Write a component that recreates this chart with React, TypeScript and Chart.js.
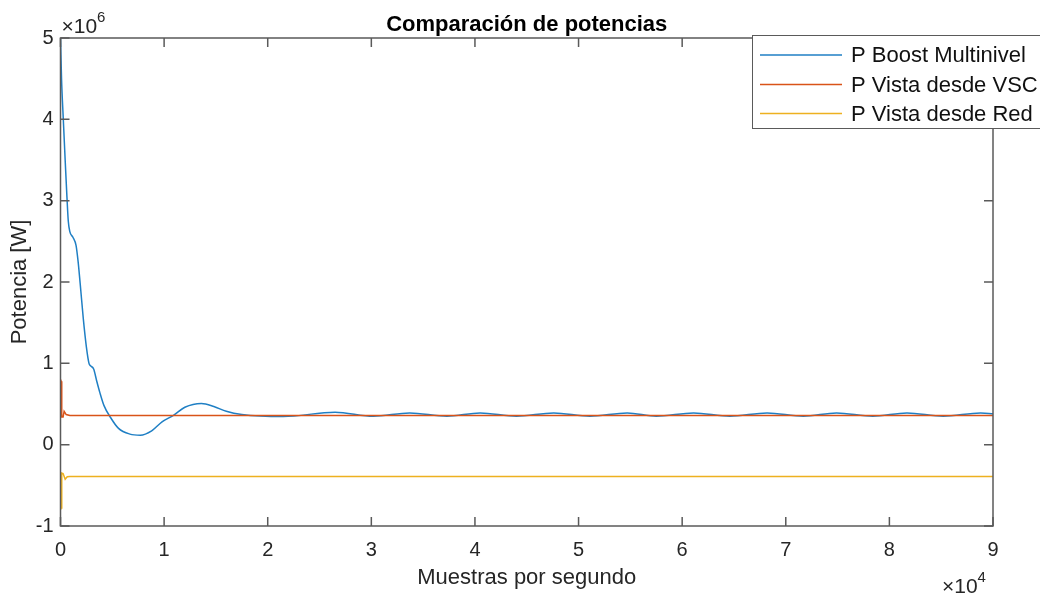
import React, { useEffect, useRef } from "react";
import { Chart, registerables } from "chart.js";

Chart.register(...registerables);

const FONT = "'Liberation Sans', Arial, Helvetica, sans-serif";
const TEXT = "#262626";
const AXIS = "#5a5a5a";

const titleText = "Comparación de potencias";
const xTitle = "Muestras por segundo";
const yTitle = "Potencia [W]";
const seriesLabels = ["P Boost Multinivel", "P Vista desde VSC", "P Vista desde Red"];
const seriesColors = ["#1f7fc4", "#D95319", "#EDB120"];

const xMin = 0;
const xMax = 90000;
const xStep = 10000;
const yMin = -1e6;
const yMax = 5e6;
const yStep = 1e6;

const boostX = [0, 100, 270, 450, 620, 750, 900, 1200, 1500, 1700, 1900, 2200, 2500, 2750, 2900, 3200, 3500, 3800, 4200, 4800, 5600, 6700, 7700, 8800, 9800, 10900, 12000, 13600, 14800, 16000, 17500, 21500, 26500, 30200, 33700, 37300, 40500, 44000, 47600, 51100, 54700, 57500, 61100, 64600, 68200, 71700, 74900, 78400, 81700, 85200, 88800, 90000];
const boostY = [5.0e6, 4.5e6, 4.0e6, 3.5e6, 3.05e6, 2.75e6, 2.62e6, 2.55e6, 2.45e6, 2.25e6, 1.98e6, 1.55e6, 1.2e6, 1.0e6, 0.97e6, 0.93e6, 0.78e6, 0.64e6, 0.48e6, 0.34e6, 0.2e6, 0.13e6, 0.117e6, 0.17e6, 0.28e6, 0.36e6, 0.46e6, 0.507e6, 0.47e6, 0.41e6, 0.37e6, 0.345e6, 0.40e6, 0.35e6, 0.39e6, 0.35e6, 0.39e6, 0.35e6, 0.39e6, 0.35e6, 0.39e6, 0.35e6, 0.39e6, 0.35e6, 0.39e6, 0.35e6, 0.39e6, 0.35e6, 0.39e6, 0.35e6, 0.39e6, 0.38e6];

const vscX = [0, 60, 120, 250, 350, 550, 900, 90000];
const vscY = [0.8e6, 0.78e6, 0.34e6, 0.34e6, 0.41e6, 0.37e6, 0.358e6, 0.358e6];

const redX = [0, 60, 120, 250, 450, 650, 900, 90000];
const redY = [-0.8e6, -0.78e6, -0.35e6, -0.355e6, -0.425e6, -0.395e6, -0.39e6, -0.39e6];

const pts = (xs: number[], ys: number[]) => xs.map((x, i) => ({ x, y: ys[i] }));

const CHART_LEFT = 60.5;
const CHART_RIGHT = 993;
const CHART_TOP = 38;
const CHART_BOTTOM = 526;
const W = 1040;
const H = 596;

const framePlugin = {
  id: "frame",
  afterDatasetsDraw(chart: any) {
    const { ctx, chartArea: a, scales } = chart;
    ctx.save();
    ctx.strokeStyle = AXIS;
    ctx.lineWidth = 1.5;
    ctx.strokeRect(a.left, a.top, a.right - a.left, a.bottom - a.top);
    const tl = 9;
    ctx.beginPath();
    scales.x.ticks.forEach((t: any) => {
      const px = scales.x.getPixelForValue(t.value);
      ctx.moveTo(px, a.bottom);
      ctx.lineTo(px, a.bottom - tl);
      ctx.moveTo(px, a.top);
      ctx.lineTo(px, a.top + tl);
    });
    scales.y.ticks.forEach((t: any) => {
      const py = scales.y.getPixelForValue(t.value);
      ctx.moveTo(a.left, py);
      ctx.lineTo(a.left + tl, py);
      ctx.moveTo(a.right, py);
      ctx.lineTo(a.right - tl, py);
    });
    ctx.stroke();
    ctx.restore();
  },
  afterDraw(chart: any) {
    const { ctx, chartArea: a } = chart;
    ctx.save();
    const drawExp = (x: number, y: number, exp: string) => {
      ctx.fillStyle = TEXT;
      ctx.textBaseline = "alphabetic";
      ctx.textAlign = "left";
      ctx.font = `21px ${FONT}`;
      ctx.fillText("×10", x, y);
      const w = ctx.measureText("×10").width;
      ctx.font = `15px ${FONT}`;
      ctx.fillText(exp, x + w, y - 11);
    };
    drawExp(a.left + 1, 33, "6");
    drawExp(942, 593, "4");

    // legend
    const lx = 752, ly = 35, lw = 320, lh = 93;
    ctx.fillStyle = "#ffffff";
    ctx.fillRect(lx, ly, lw, lh);
    ctx.strokeStyle = AXIS;
    ctx.lineWidth = 1;
    ctx.strokeRect(lx + 0.5, ly + 0.5, lw, lh);
    const rows = [55, 84.5, 113.5];
    chart.data.datasets.forEach((ds: any, i: number) => {
      ctx.strokeStyle = ds.borderColor;
      ctx.lineWidth = 1.5;
      ctx.beginPath();
      ctx.moveTo(760, rows[i]);
      ctx.lineTo(842, rows[i]);
      ctx.stroke();
      ctx.fillStyle = "#111";
      ctx.font = `22px ${FONT}`;
      ctx.textAlign = "left";
      ctx.textBaseline = "middle";
      ctx.fillText(ds.label, 851, rows[i] + 1);
    });
    ctx.restore();
  },
};

export default function App() {
  const ref = useRef<HTMLCanvasElement | null>(null);
  useEffect(() => {
    if (!ref.current) return;
    const chart = new Chart(ref.current, {
      type: "line",
      data: {
        datasets: [
          {
            label: seriesLabels[0],
            data: pts(boostX, boostY),
            borderColor: seriesColors[0],
            borderWidth: 1.5,
            pointRadius: 0,
            cubicInterpolationMode: "monotone",
            fill: false,
            order: 2,
          },
          {
            label: seriesLabels[1],
            data: pts(vscX, vscY),
            borderColor: seriesColors[1],
            borderWidth: 1.5,
            pointRadius: 0,
            tension: 0,
            fill: false,
            order: 1,
          },
          {
            label: seriesLabels[2],
            data: pts(redX, redY),
            borderColor: seriesColors[2],
            borderWidth: 1.5,
            pointRadius: 0,
            tension: 0,
            fill: false,
            order: 0,
          },
        ],
      },
      options: {
        responsive: false,
        animation: false,
        layout: { padding: { left: 0, right: W - CHART_RIGHT, top: 0, bottom: 0 } },
        plugins: {
          legend: { display: false },
          tooltip: { enabled: false },
          title: {
            display: true,
            fullSize: false,
            text: titleText,
            color: "#000",
            font: { family: FONT, size: 22, weight: "bold", lineHeight: 1.0 },
            padding: { top: 14, bottom: CHART_TOP - 14 - 22 },
          },
        },
        scales: {
          x: {
            type: "linear",
            min: xMin,
            max: xMax,
            afterFit: (s: any) => {
              s.height = H - CHART_BOTTOM;
            },
            afterBuildTicks: (s: any) => {
              const t = [];
              for (let v = xMin; v <= xMax; v += xStep) t.push({ value: v });
              s.ticks = t;
            },
            ticks: {
              callback: (v: any) => String(Number(v) / xStep),
              color: TEXT,
              font: { family: FONT, size: 20 },
              padding: 12,
              maxRotation: 0,
              autoSkip: false,
            },
            grid: { display: false, drawTicks: false },
            border: { display: false },
            title: {
              display: true,
              text: xTitle,
              color: TEXT,
              font: { family: FONT, size: 22, lineHeight: 1.2 },
              padding: { top: 0, bottom: 5 },
            },
          },
          y: {
            type: "linear",
            min: yMin,
            max: yMax,
            afterFit: (s: any) => {
              s.width = CHART_LEFT;
            },
            afterBuildTicks: (s: any) => {
              const t = [];
              for (let v = yMin; v <= yMax; v += yStep) t.push({ value: v });
              s.ticks = t;
            },
            ticks: {
              callback: (v: any) => String(Math.round(Number(v) / yStep)),
              color: TEXT,
              font: { family: FONT, size: 20 },
              padding: 7,
            },
            grid: { display: false, drawTicks: false },
            border: { display: false },
            title: {
              display: true,
              text: yTitle,
              color: TEXT,
              font: { family: FONT, size: 22, lineHeight: 1.2 },
              padding: { top: 7, bottom: 0 },
            },
          },
        },
      },
      plugins: [framePlugin],
    } as any);
    return () => chart.destroy();
  }, []);
  return (
    <div style={{ position: "fixed", left: 0, top: 0, width: W, height: H, background: "#fff" }}>
      <canvas ref={ref} width={W} height={H} style={{ width: W, height: H, display: "block" }} />
    </div>
  );
}
